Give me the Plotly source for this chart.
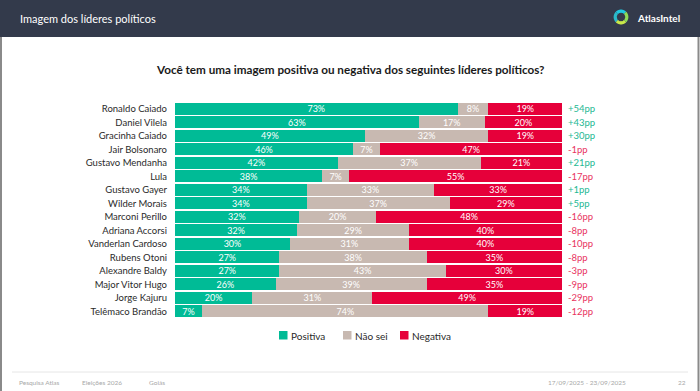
import numpy as np
import plotly.graph_objects as go

names = ["Ronaldo Caiado", "Daniel Vilela", "Gracinha Caiado", "Jair Bolsonaro",
         "Gustavo Mendanha", "Lula", "Gustavo Gayer", "Wilder Morais",
         "Marconi Perillo", "Adriana Accorsi", "Vanderlan Cardoso", "Rubens Otoni",
         "Alexandre Baldy", "Major Vitor Hugo", "Jorge Kajuru", "Telêmaco Brandão"]
positiva = [73, 63, 49, 46, 42, 38, 34, 34, 32, 31.6, 29.7, 27, 27, 26, 20, 7]
nao_sei = [8, 17, 32, 7, 37, 7, 33, 37, 20, 28.8, 30.7, 38, 43, 39, 31, 74]
negativa = [19, 20, 19, 47, 21, 55, 33, 29, 48, 39.6, 39.6, 35, 30, 35, 49, 19]
saldo = [54, 43, 30, -1, 21, -17, 1, 5, -16, -8, -10, -8, -3, -9, -29, -12]
series = ["Positiva", "Não sei", "Negativa"]

GREEN = "#00BB96"
GREY = "#C8B9B1"
RED = "#E6003A"
COLORS = [GREEN, GREY, RED]
FONT = "Lato"
W, H = 700, 391


def px(x):
    return x / W


def py(y):
    return 1 - y / H


fig = go.Figure()
for label, vals, col in zip(series, [positiva, nao_sei, negativa], COLORS):
    fig.add_trace(go.Bar(
        y=names, x=vals, name=label, orientation="h",
        marker=dict(color=col, line=dict(width=0)),
        text=[f"{round(v):d}%" for v in vals],
        textposition="inside", insidetextanchor="middle",
        textfont=dict(family=FONT, size=9, color="white"),
        constraintext="none", hoverinfo="skip", showlegend=False,
    ))

annotations = []
# net balance labels
for n, s, p, q, r in zip(names, saldo, positiva, nao_sei, negativa):
    annotations.append(dict(
        x=p + q + r, y=n, xref="x", yref="y", xanchor="left", yanchor="middle",
        xshift=4, showarrow=False, text=f"{'+' if s > 0 else ''}{s}pp",
        font=dict(family=FONT, size=9.5, color="#1DB893" if s > 0 else "#E8335E")))

shapes = [
    dict(type="rect", xref="paper", yref="paper", x0=0, x1=1, y0=py(37), y1=1,
         fillcolor="#333A4B", line=dict(width=0), layer="below"),
    dict(type="line", xref="paper", yref="paper", x0=px(1), x1=px(1), y0=0, y1=py(37),
         line=dict(color="#8A8A8A", width=2)),
    dict(type="line", xref="paper", yref="paper", x0=px(698.5), x1=px(698.5), y0=0, y1=py(37),
         line=dict(color="#8A8A8A", width=2)),
    dict(type="line", xref="paper", yref="paper", x0=px(12), x1=px(688), y0=py(372), y1=py(372),
         line=dict(color="#E6E6E6", width=1)),
]

# manual legend (square + label)
for label, col, lx in zip(series, COLORS, [279, 343, 400]):
    shapes.append(dict(type="rect", xref="paper", yref="paper",
                       x0=px(lx), x1=px(lx + 8.5), y0=py(339.5), y1=py(331),
                       fillcolor=col, line=dict(width=0)))
    annotations.append(dict(text=label, x=px(lx + 10), y=py(335.5), xref="paper", yref="paper",
                            xanchor="left", yanchor="middle", showarrow=False,
                            font=dict(family=FONT, size=10, color="#2A2A2A")))

# logo ring (rounded diamond)
cx, cy, r = 621, 17, 5.8
for a0, a1, col in [(0, 90, "#1EC8E0"), (90, 180, "#2BB9C9"), (180, 270, "#C9E84A"), (270, 360, "#8EDB57")]:
    t = np.radians(np.linspace(a0, a1, 12) + 45)
    xs = cx + r * np.cos(t)
    ys = cy - r * np.sin(t)
    d = "M " + " L ".join(f"{px(x):.5f},{py(y):.5f}" for x, y in zip(xs, ys))
    shapes.append(dict(type="path", xref="paper", yref="paper", path=d,
                       line=dict(color=col, width=3.2)))

annotations += [
    dict(text="Imagem dos líderes políticos", x=px(18), y=py(18), xref="paper", yref="paper",
         xanchor="left", yanchor="middle", showarrow=False,
         font=dict(family=FONT, size=11, color="white")),
    dict(text="<b>AtlasIntel</b>", x=px(635), y=py(18), xref="paper", yref="paper",
         xanchor="left", yanchor="middle", showarrow=False,
         font=dict(family=FONT, size=10, color="white")),
    dict(text="<b>Você tem uma imagem positiva ou negativa dos seguintes líderes políticos?</b>",
         x=px(350), y=py(69), xref="paper", yref="paper", xanchor="center", yanchor="middle",
         showarrow=False, font=dict(family=FONT, size=11.7, color="#1A1A1A")),
]
for txt, x, anc in [("Pesquisa Atlas", 17, "left"), ("Eleições 2026", 80, "left"),
                    ("Goiás", 147, "left"), ("17/09/2025 - 23/09/2025", 628, "right"),
                    ("22", 688, "right")]:
    annotations.append(dict(text=txt, x=px(x), y=py(382), xref="paper", yref="paper",
                            xanchor=anc, yanchor="middle", showarrow=False,
                            font=dict(family=FONT, size=6.5, color="#A8A8A8")))

fig.update_layout(
    width=W, height=H, barmode="stack", bargap=0.09,
    margin=dict(l=0, r=0, t=0, b=0),
    paper_bgcolor="white", plot_bgcolor="white",
    xaxis=dict(domain=[px(175), px(562)], range=[0, 100], visible=False, fixedrange=True),
    yaxis=dict(domain=[py(318.8), py(101.2)], autorange="reversed", showgrid=False,
               ticks="", ticklabelstandoff=7, showline=False,
               tickfont=dict(family=FONT, size=9.5, color="#2A2A2A"), fixedrange=True),
    showlegend=False, shapes=shapes, annotations=annotations,
    uniformtext=dict(minsize=9, mode="show"),
)

fig.write_html("out.html", post_script="document.body.style.margin='0';",
               config={"displayModeBar": False})
